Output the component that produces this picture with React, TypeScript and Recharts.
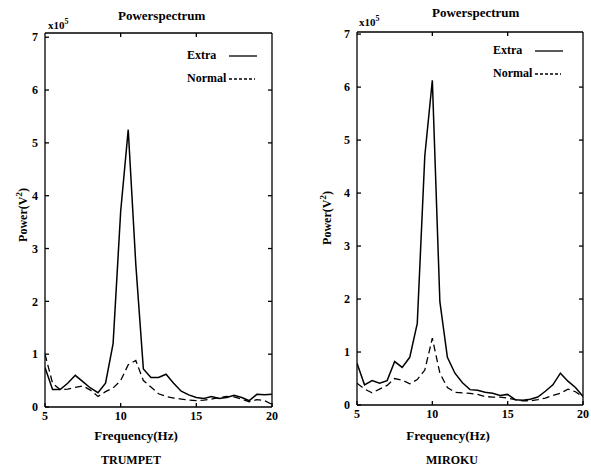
import { LineChart, Line, XAxis, YAxis } from 'recharts';

const freq = [5, 5.5, 6, 6.5, 7, 7.5, 8, 8.5, 9, 9.5, 10, 10.5, 11, 11.5, 12, 12.5, 13, 13.5, 14, 14.5, 15, 15.5, 16, 16.5, 17, 17.5, 18, 18.5, 19, 19.5, 20];

const trumpetExtra = [0.75, 0.33, 0.33, 0.45, 0.6, 0.48, 0.36, 0.27, 0.45, 1.2, 3.7, 5.25, 2.7, 0.72, 0.56, 0.56, 0.62, 0.45, 0.3, 0.23, 0.18, 0.16, 0.2, 0.16, 0.18, 0.22, 0.18, 0.12, 0.24, 0.23, 0.24];
const trumpetNormal = [1.0, 0.45, 0.33, 0.34, 0.37, 0.4, 0.32, 0.2, 0.29, 0.36, 0.5, 0.8, 0.88, 0.5, 0.38, 0.25, 0.2, 0.17, 0.15, 0.13, 0.12, 0.13, 0.15, 0.18, 0.2, 0.19, 0.15, 0.1, 0.14, 0.12, 0.05];

const mirokuExtra = [0.79, 0.38, 0.46, 0.41, 0.46, 0.82, 0.71, 0.9, 1.54, 4.7, 6.13, 1.95, 0.9, 0.6, 0.42, 0.29, 0.28, 0.24, 0.22, 0.18, 0.2, 0.1, 0.09, 0.11, 0.15, 0.26, 0.38, 0.6, 0.45, 0.33, 0.16];
const mirokuNormal = [0.41, 0.3, 0.23, 0.3, 0.37, 0.5, 0.47, 0.4, 0.48, 0.66, 1.26, 0.6, 0.33, 0.24, 0.23, 0.22, 0.2, 0.16, 0.15, 0.15, 0.13, 0.1, 0.08, 0.08, 0.1, 0.13, 0.18, 0.22, 0.3, 0.25, 0.15];

const xTicks = [5, 10, 15, 20];
const yTicks = [0, 1, 2, 3, 4, 5, 6, 7];

const serif = '"Liberation Serif", "DejaVu Serif", serif';
const tickStyle = { fontFamily: serif, fontSize: 12, fontWeight: 700, fill: '#000' };
// frame axes: tick marks only, no labels
const noLabel = () => <g />;

function LegendBox({ left, top }: { left: number; top: number }) {
  return (
    <div style={{ position: 'absolute', left, top, fontFamily: serif, fontSize: 12, fontWeight: 700, color: '#000', lineHeight: '23px' }}>
      <div style={{ display: 'flex', alignItems: 'center' }}>
        <span style={{ width: 42 }}>Extra</span>
        <svg width={28} height={4}><line x1={0} y1={2} x2={28} y2={2} stroke="#000" strokeWidth={1.3} /></svg>
      </div>
      <div style={{ display: 'flex', alignItems: 'center' }}>
        <span style={{ width: 42 }}>Normal</span>
        <svg width={26} height={4}><line x1={0} y1={2} x2={26} y2={2} stroke="#000" strokeWidth={1.3} strokeDasharray="3 2" /></svg>
      </div>
    </div>
  );
}

type PanelProps = {
  left: number;
  width: number;
  margin: { top: number; right: number; bottom: number; left: number };
  yMax: number;
  extra: number[];
  normal: number[];
};

function Panel({ left, width, margin, yMax, extra, normal }: PanelProps) {
  const rows = freq.map((f, i) => ({ f, extra: extra[i], normal: normal[i] }));
  return (
    <div style={{ position: 'absolute', left, top: 0 }}>
      <LineChart width={width} height={466} data={rows} margin={margin}>
        <XAxis xAxisId="b" dataKey="f" type="number" domain={[5, 20]} ticks={xTicks} allowDataOverflow
          height={20} tickSize={-4} tickMargin={8} tick={tickStyle} stroke="#000" strokeWidth={1.3} />
        <XAxis xAxisId="t" orientation="top" dataKey="f" type="number" domain={[5, 20]} ticks={[10, 15]}
          allowDataOverflow height={4} tickSize={-4} tick={noLabel} stroke="#000" strokeWidth={1.3} />
        <YAxis yAxisId="l" domain={[0, yMax]} ticks={yTicks} allowDataOverflow width={1}
          tickSize={-4} tickMargin={11} tick={tickStyle} stroke="#000" strokeWidth={1.3} />
        <YAxis yAxisId="r" orientation="right" domain={[0, yMax]} ticks={[1, 2, 3, 4, 5, 6]} width={4}
          allowDataOverflow tickSize={-4} tick={noLabel} stroke="#000" strokeWidth={1.3} />
        {/* invisible copy so the top/right frame axes get drawn */}
        <Line xAxisId="t" yAxisId="r" dataKey="extra" type="linear" stroke="none" dot={false}
          activeDot={false} isAnimationActive={false} />
        <Line xAxisId="b" yAxisId="l" dataKey="extra" type="linear" stroke="#000" strokeWidth={1.5}
          dot={false} isAnimationActive={false} />
        <Line xAxisId="b" yAxisId="l" dataKey="normal" type="linear" stroke="#000" strokeWidth={1.3}
          strokeDasharray="7 4" dot={false} isAnimationActive={false} />
      </LineChart>
    </div>
  );
}

const textBase = { position: 'absolute' as const, fontFamily: serif, fontWeight: 700, color: '#000', whiteSpace: 'nowrap' as const };

export default function App() {
  return (
    <div style={{ position: 'fixed', left: 0, top: 0, width: 591, height: 466, background: '#fff', overflow: 'hidden' }}>
      <Panel left={0} width={295} margin={{ top: 29, right: 19, bottom: 39, left: 44 }} yMax={7.08}
        extra={trumpetExtra} normal={trumpetNormal} />
      <Panel left={295} width={296} margin={{ top: 28, right: 4, bottom: 41, left: 61 }} yMax={7.04}
        extra={mirokuExtra} normal={mirokuNormal} />

      <LegendBox left={187} top={44} />
      <LegendBox left={493} top={39} />

      <div style={{ ...textBase, left: 118, top: 8, fontSize: 13 }}>Powerspectrum</div>
      <div style={{ ...textBase, left: 432, top: 5, fontSize: 13 }}>Powerspectrum</div>

      <div style={{ ...textBase, left: 48, top: 17, fontSize: 11 }}>x10<sup style={{ fontSize: 8 }}>5</sup></div>
      <div style={{ ...textBase, left: 359, top: 14, fontSize: 11 }}>x10<sup style={{ fontSize: 8 }}>5</sup></div>

      <div style={{ ...textBase, left: 22, top: 215, fontSize: 12, transform: 'translate(-50%, -50%) rotate(-90deg)' }}>Power(V<sup style={{ fontSize: 9 }}>2</sup>)</div>
      <div style={{ ...textBase, left: 326, top: 218, fontSize: 12, transform: 'translate(-50%, -50%) rotate(-90deg)' }}>Power(V<sup style={{ fontSize: 9 }}>2</sup>)</div>

      <div style={{ ...textBase, left: 136, top: 436, fontSize: 13, transform: 'translate(-50%, -50%)' }}>Frequency(Hz)</div>
      <div style={{ ...textBase, left: 448, top: 436, fontSize: 13, transform: 'translate(-50%, -50%)' }}>Frequency(Hz)</div>

      <div style={{ ...textBase, left: 131, top: 460, fontSize: 12, transform: 'translate(-50%, -50%)' }}>TRUMPET</div>
      <div style={{ ...textBase, left: 452, top: 460, fontSize: 12, transform: 'translate(-50%, -50%)' }}>MIROKU</div>
    </div>
  );
}
